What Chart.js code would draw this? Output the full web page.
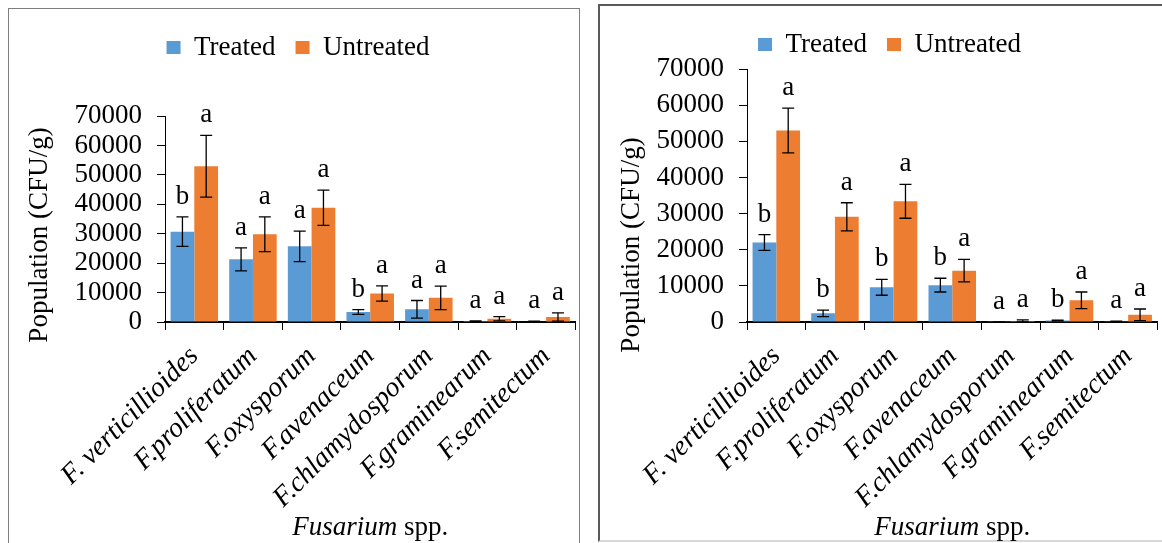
<!DOCTYPE html>
<html>
<head>
<meta charset="utf-8">
<script src="https://cdn.jsdelivr.net/npm/chart.js@4.4.1/dist/chart.umd.min.js"></script>
<style>
  html, body { margin: 0; padding: 0; background: #fff; }
  body { width: 1162px; height: 543px; position: relative; overflow: hidden; font-family: 'Liberation Serif', serif; }
  .panel { position: absolute; box-sizing: border-box; }
  #panelLeft { left: 8px; top: 8px; width: 572px; height: 560px; border: 1px solid #7f7f7f; }
  #panelRight { left: 598px; top: 4px; width: 580px; height: 538px; border: 2px solid #595959; border-bottom-color: #d9d9d9; }
  canvas { position: absolute; top: 0; }
  #leftChart { left: 0; }
  #rightChart { left: 600px; }
</style>
</head>
<body>
<div class="panel" id="panelLeft"></div>
<div class="panel" id="panelRight"></div>
<canvas id="leftChart" width="580" height="543"></canvas>
<canvas id="rightChart" width="562" height="543"></canvas>
<script>
// categories and tick values
const categories = ['F. verticillioides', 'F.proliferatum', 'F.oxysporum', 'F.avenaceum',
  'F.chlamydosporum', 'F.graminearum', 'F.semitectum'];
const yTickValues = [0, 10000, 20000, 30000, 40000, 50000, 60000, 70000];
const seriesNames = ['Treated', 'Untreated'];

// left panel
const leftTreated = [30700, 21300, 25700, 3400, 4300, 300, 200];
const leftTreatedErr = [5000, 3900, 5200, 800, 3000, 100, 50];
const leftTreatedLetters = ['b', 'a', 'a', 'b', 'a', 'a', 'a'];
const leftUntreated = [52900, 29800, 38800, 9700, 8200, 1100, 1700];
const leftUntreatedErr = [10500, 5900, 6000, 2600, 4000, 700, 1400];
const leftUntreatedLetters = ['a', 'a', 'a', 'a', 'a', 'a', 'a'];

// right panel
const rightTreated = [22000, 2400, 9600, 10200, 50, 400, 200];
const rightTreatedErr = [2200, 900, 2200, 1900, 0, 100, 50];
const rightTreatedLetters = ['b', 'b', 'b', 'b', 'a', 'b', 'a'];
const rightUntreated = [53000, 29100, 33400, 14200, 300, 6000, 2000];
const rightUntreatedErr = [6200, 3900, 4700, 3100, 300, 2300, 1600];
const rightUntreatedLetters = ['a', 'a', 'a', 'a', 'a', 'a', 'a'];

const FONT = '"Liberation Serif"';
const BLUE = '#5B9BD5';
const ORANGE = '#ED7D31';

Chart.defaults.font.family = FONT;
Chart.defaults.color = '#000';

// error bars + significance letters
const errorBars = {
  id: 'errorBars',
  afterDatasetsDraw(chart) {
    const ctx = chart.ctx;
    const y = chart.scales.y;
    chart.data.datasets.forEach((ds, i) => {
      chart.getDatasetMeta(i).data.forEach((bar, j) => {
        const v = ds.data[j], e = ds.errors[j];
        const top = y.getPixelForValue(v + e);
        const bot = y.getPixelForValue(Math.max(v - e, 0));
        ctx.save();
        ctx.strokeStyle = '#000';
        ctx.lineWidth = 1.3;
        ctx.beginPath();
        ctx.moveTo(bar.x, top); ctx.lineTo(bar.x, bot);
        ctx.moveTo(bar.x - 6, top); ctx.lineTo(bar.x + 6, top);
        ctx.moveTo(bar.x - 6, bot); ctx.lineTo(bar.x + 6, bot);
        ctx.stroke();
        ctx.font = '27px ' + FONT;
        ctx.fillStyle = '#000';
        ctx.textAlign = 'center';
        ctx.textBaseline = 'alphabetic';
        ctx.fillText(ds.letters[j], bar.x, top - 13);
        ctx.restore();
      });
    });
  }
};

function makeChart(id, p) {
  const legendSpace = {
    id: 'legendSpace',
    beforeInit(chart) {
      const fit = chart.legend.fit;
      chart.legend.fit = function () {
        fit.call(this);
        this.height = p.legendHeight;
      };
    }
  };

  const axisTitles = {
    id: 'axisTitles',
    afterDraw(chart) {
      const ctx = chart.ctx;
      const area = chart.chartArea;
      ctx.save();
      ctx.fillStyle = '#000';
      // y title
      ctx.font = '27px ' + FONT;
      ctx.translate(p.yTitleX, p.yTitleY);
      ctx.rotate(-Math.PI / 2);
      ctx.textAlign = 'center';
      ctx.textBaseline = 'middle';
      ctx.fillText('Population (CFU/g)', 0, 0);
      ctx.restore();
      // x title: italic genus + plain "spp."
      ctx.save();
      ctx.fillStyle = '#000';
      ctx.textBaseline = 'alphabetic';
      ctx.textAlign = 'left';
      ctx.font = 'italic 27px ' + FONT;
      const w1 = ctx.measureText('Fusarium').width;
      ctx.font = '27px ' + FONT;
      const w2 = ctx.measureText(' spp.').width;
      const x0 = (area.left + area.right) / 2 - (w1 + w2) / 2;
      ctx.font = 'italic 27px ' + FONT;
      ctx.fillText('Fusarium', x0, p.xTitleY);
      ctx.font = '27px ' + FONT;
      ctx.fillText(' spp.', x0 + w1, p.xTitleY);
      ctx.restore();
    }
  };

  return new Chart(document.getElementById(id), {
    type: 'bar',
    data: {
      labels: categories,
      datasets: [
        { label: seriesNames[0], data: p.treated, errors: p.treatedErr, letters: p.treatedLetters,
          backgroundColor: BLUE },
        { label: seriesNames[1], data: p.untreated, errors: p.untreatedErr, letters: p.untreatedLetters,
          backgroundColor: ORANGE }
      ]
    },
    options: {
      responsive: false,
      animation: false,
      layout: { padding: { top: p.padTop, left: 18, right: p.padRight, bottom: 0 } },
      datasets: { bar: { categoryPercentage: 0.81, barPercentage: 1 } },
      plugins: {
        legend: {
          position: 'top',
          labels: { boxWidth: 14, boxHeight: 13, padding: 20, color: '#000', font: { size: 27 } }
        },
        tooltip: { enabled: false }
      },
      scales: {
        x: {
          grid: { offset: true, drawOnChartArea: false, tickLength: 8, color: '#000' },
          border: { color: '#000', width: 2 },
          ticks: { autoSkip: false, minRotation: 45, maxRotation: 45, padding: 10,
            color: '#000', font: { size: 28, style: 'italic' } },
          afterFit(scale) { scale.height = 543 - p.bottom; }
        },
        y: {
          min: yTickValues[0],
          max: yTickValues[yTickValues.length - 1],
          grid: { drawOnChartArea: false, tickLength: 8, color: '#000' },
          border: { color: '#000', width: 1 },
          ticks: { stepSize: yTickValues[1] - yTickValues[0], autoSkip: false, padding: 15,
            color: '#000', font: { size: 27 }, callback: (v) => String(v) },
          afterFit(scale) { scale.width = p.axisLeft - 18; }
        }
      }
    },
    plugins: [legendSpace, errorBars, axisTitles]
  });
}

function drawAll() {
  makeChart('leftChart', {
    treated: leftTreated, treatedErr: leftTreatedErr, treatedLetters: leftTreatedLetters,
    untreated: leftUntreated, untreatedErr: leftUntreatedErr, untreatedLetters: leftUntreatedLetters,
    padTop: 14, legendHeight: 102, padRight: 2, axisLeft: 165, bottom: 322,
    yTitleX: 40, yTitleY: 235, xTitleY: 535
  });
  makeChart('rightChart', {
    treated: rightTreated, treatedErr: rightTreatedErr, treatedLetters: rightTreatedLetters,
    untreated: rightUntreated, untreatedErr: rightUntreatedErr, untreatedLetters: rightUntreatedLetters,
    padTop: 11, legendHeight: 58, padRight: 1, axisLeft: 147, bottom: 322,
    yTitleX: 32, yTitleY: 245, xTitleY: 535
  });
}

Promise.all([
  document.fonts.load('27px "Liberation Serif"'),
  document.fonts.load('italic 27px "Liberation Serif"')
]).then(drawAll, drawAll);
</script>
</body>
</html>
